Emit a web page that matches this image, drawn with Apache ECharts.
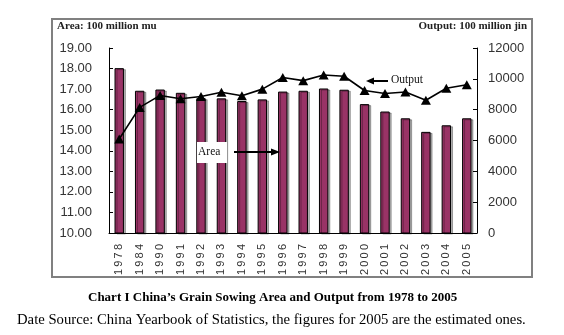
<!DOCTYPE html>
<html>
<head>
<meta charset="utf-8">
<script src="https://cdn.jsdelivr.net/npm/echarts@6/dist/echarts.min.js"></script>
<style>
  html, body { margin: 0; padding: 0; background: #fff; }
  #chart { width: 564px; height: 335px; }
</style>
</head>
<body>
<div id="chart"></div>
<script>
// Grain sowing area (100 million mu) and output (100 million jin), 1978-2005
const years = ['1978','1984','1990','1991','1992','1993','1994','1995','1996',
               '1997','1998','1999','2000','2001','2002','2003','2004','2005'];
const areaValues = [18.02, 16.92, 16.98, 16.82, 16.56, 16.55, 16.42, 16.50, 16.88,
                    16.92, 17.03, 16.97, 16.27, 15.91, 15.58, 14.92, 15.24, 15.58];
const outputValues = [6095, 8146, 8924, 8705, 8853, 9130, 8902, 9332, 10090,
                      9883, 10246, 10168, 9244, 9053, 9141, 8614, 9390, 9620];
const leftTicks = [10, 19, 1];      // min, max, step
const rightTicks = [0, 12000, 2000];

const serif = '"Liberation Serif", "Times New Roman", serif';
const sans = '"Liberation Sans", Arial, sans-serif';

// Insert thin spaces so the rotated year labels read with open tracking
const spaced = s => s.split('').join('\u2009');

const chart = echarts.init(document.getElementById('chart'), null, { renderer: 'canvas' });

chart.setOption({
  backgroundColor: '#fff',
  animation: false,
  grid: { left: 109, right: 87, top: 48, bottom: 102 },
  xAxis: {
    type: 'category',
    data: years,
    boundaryGap: true,
    axisLine: { lineStyle: { color: '#000', width: 1 } },
    axisTick: { inside: true, length: 3, lineStyle: { color: '#000' } },
    axisLabel: {
      rotate: 90, margin: 11, color: '#333',
      fontFamily: sans, fontSize: 11,
      formatter: v => spaced(v)
    },
    splitLine: { show: false }
  },
  yAxis: [
    {
      type: 'value', position: 'left',
      min: leftTicks[0], max: leftTicks[1], interval: leftTicks[2],
      axisLine: { show: true, lineStyle: { color: '#000', width: 1 } },
      axisTick: { show: true, inside: true, length: 4, lineStyle: { color: '#000' } },
      axisLabel: { margin: 17, color: '#333', fontFamily: sans, fontSize: 13,
                   formatter: v => v.toFixed(2) },
      splitLine: { show: false }
    },
    {
      type: 'value', position: 'right',
      min: rightTicks[0], max: rightTicks[1], interval: rightTicks[2],
      axisLine: { show: true, lineStyle: { color: '#000', width: 1 } },
      axisTick: { show: true, inside: true, length: 4, lineStyle: { color: '#000' } },
      axisLabel: { margin: 11, color: '#333', fontFamily: sans, fontSize: 13,
                   formatter: v => String(v) },
      splitLine: { show: false }
    }
  ],
  series: [
    {
      name: 'Area',
      type: 'bar',
      yAxisIndex: 0,
      data: areaValues,
      barWidth: '46%',
      itemStyle: {
        color: '#993366',
        borderColor: '#000',
        borderWidth: 1,
        shadowColor: 'rgba(0,0,0,0.3)',
        shadowOffsetX: 2,
        shadowOffsetY: 1,
        shadowBlur: 0
      }
    },
    {
      name: 'Output',
      type: 'line',
      yAxisIndex: 1,
      data: outputValues,
      symbol: 'triangle',
      symbolSize: [10, 9],
      lineStyle: { color: '#000', width: 1.6 },
      itemStyle: { color: '#000' },
      z: 5
    }
  ],
  graphic: [
    // Outer frame
    { type: 'rect', shape: { x: 52, y: 19, width: 480, height: 258 },
      style: { fill: 'none', stroke: '#808080', lineWidth: 2 }, z: 0 },
    // Axis unit captions
    { type: 'text', left: 57, top: 21,
      style: { text: 'Area: 100 million mu', font: 'bold 11px ' + serif, fill: '#222' } },
    { type: 'text', right: 37, top: 21,
      style: { text: 'Output: 100 million jin', font: 'bold 11px ' + serif, fill: '#222',
               textAlign: 'right' } },
    // "Output" callout with left-pointing arrow
    { type: 'line', shape: { x1: 388, y1: 81, x2: 372, y2: 81 },
      style: { stroke: '#000', lineWidth: 2 }, z: 10 },
    { type: 'polygon', shape: { points: [[366, 81], [374, 77.5], [374, 84.5]] },
      style: { fill: '#000' }, z: 10 },
    { type: 'text', left: 391, top: 74,
      style: { text: 'Output', font: '11.5px ' + serif, fill: '#111' }, z: 10 },
    // "Area" callout on a white box with right-pointing arrow
    { type: 'rect', shape: { x: 197, y: 142, width: 30, height: 21 },
      style: { fill: '#fff' }, z: 10 },
    { type: 'text', left: 198, top: 146,
      style: { text: 'Area', font: '11.5px ' + serif, fill: '#111' }, z: 11 },
    { type: 'line', shape: { x1: 234, y1: 152, x2: 272, y2: 152 },
      style: { stroke: '#000', lineWidth: 2 }, z: 10 },
    { type: 'polygon', shape: { points: [[280, 152], [271, 148.5], [271, 155.5]] },
      style: { fill: '#000' }, z: 10 },
    // Caption below the frame
    { type: 'text', left: 88, top: 291,
      style: { text: 'Chart I China\u2019s Grain Sowing Area and Output from 1978 to 2005',
               font: 'bold 13px ' + serif, fill: '#000' } },
    { type: 'text', left: 17, top: 313,
      style: { text: 'Date Source: China Yearbook of Statistics, the figures for 2005 are the estimated ones.',
               font: '14.7px ' + serif, fill: '#000' } }
  ]
});
</script>
</body>
</html>
